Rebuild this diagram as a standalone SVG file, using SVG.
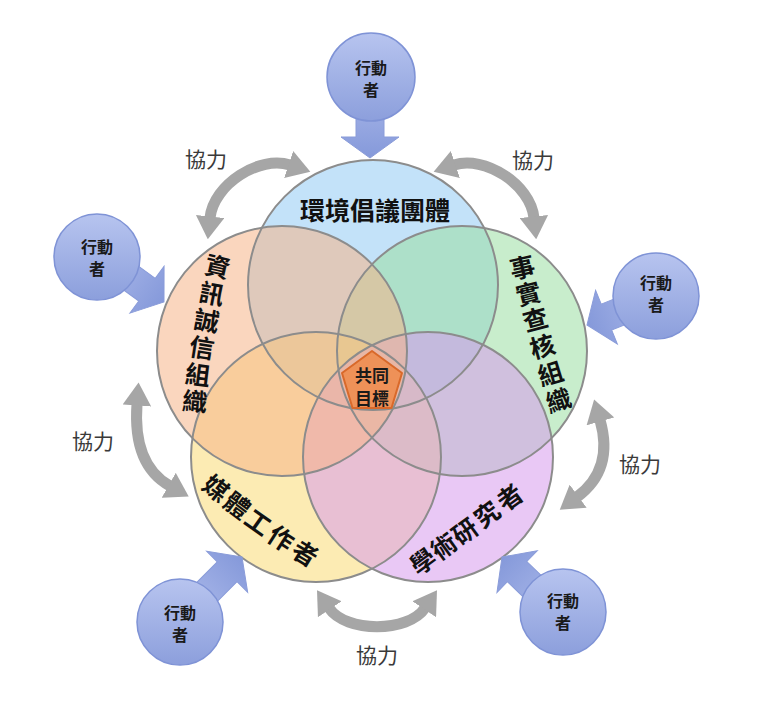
<svg xmlns="http://www.w3.org/2000/svg" width="774" height="728" viewBox="0 0 774 728">
  <defs>
    <style>
      .cjk { font-family: "Noto Sans CJK TC", "Noto Sans CJK SC", sans-serif; }
      .lbl { font-size: 25px; font-weight: 700; fill: #111; text-anchor: middle; dominant-baseline: central; }
      .coop { font-size: 21px; font-weight: 400; fill: #3a3a3a; text-anchor: middle; dominant-baseline: central; }
      .actor-t { font-size: 16px; font-weight: 700; fill: #1a1a1a; text-anchor: middle; dominant-baseline: central; }
      .goal-t { font-size: 17px; font-weight: 700; fill: #1a1a1a; text-anchor: middle; dominant-baseline: central; }
      .vfill { fill-opacity: 0.55; stroke: none; }
      .vline { fill: none; stroke: #8c8c8c; stroke-width: 2; }
      .garrow { fill: none; stroke: #a6a6a6; stroke-width: 11; marker-start: url(#ah); marker-end: url(#ah); }
      .actor-c { fill: url(#actorGrad); stroke: #7f93d6; stroke-width: 1.5; }
      .actor-a { fill: url(#arrowGrad); stroke: #8a9cd9; stroke-width: 1; }
    </style>
    <marker id="ah" viewBox="0 0 8 10" refX="0.5" refY="5" markerWidth="2.1" markerHeight="2.6" orient="auto-start-reverse" markerUnits="strokeWidth">
      <path d="M0,0 L8,5 L0,10 Z" fill="#a6a6a6"/>
    </marker>
    <linearGradient id="actorGrad" x1="0" y1="0" x2="0" y2="1">
      <stop offset="0" stop-color="#b7c4ef"/>
      <stop offset="1" stop-color="#8c9fdc"/>
    </linearGradient>
    <linearGradient id="arrowGrad" gradientUnits="userSpaceOnUse" x1="-85" y1="0" x2="0" y2="0">
      <stop offset="0" stop-color="#b0bdec"/>
      <stop offset="1" stop-color="#8599da"/>
    </linearGradient>
    <polygon id="blockArrow" points="0,0 -21,-29 -21,-14 -88,-14 -88,14 -21,14 -21,29"/>
  </defs>

  <rect width="774" height="728" fill="#ffffff"/>

  <!-- Venn circles (fills) -->
  <g id="node-env">
    <circle class="vfill" cx="373" cy="285" r="125" fill="#92caf4"/>
  </g>
  <g id="node-factcheck">
    <circle class="vfill" cx="462" cy="351" r="125" fill="#9bdea2"/>
  </g>
  <g id="node-media">
    <circle class="vfill" cx="316" cy="457" r="125" fill="#fadb75"/>
  </g>
  <g id="node-academic">
    <circle class="vfill" cx="428" cy="457" r="125" fill="#d79bed"/>
  </g>
  <g id="node-integrity">
    <circle class="vfill" cx="282" cy="351" r="125" fill="#f6b489"/>
  </g>

  <g id="venn-outlines">
    <circle class="vline" cx="373" cy="285" r="125"/>
    <circle class="vline" cx="462" cy="351" r="125"/>
    <circle class="vline" cx="428" cy="457" r="125"/>
    <circle class="vline" cx="316" cy="457" r="125"/>
    <circle class="vline" cx="282" cy="351" r="125"/>
  </g>

  <g id="labels" class="cjk">
    <text class="lbl" x="375" y="209">環境倡議團體</text>
    <g id="label-integrity">
      <text class="lbl" transform="translate(218,265) rotate(13)">資</text>
      <text class="lbl" transform="translate(212,292) rotate(11)">訊</text>
      <text class="lbl" transform="translate(207,319) rotate(10)">誠</text>
      <text class="lbl" transform="translate(202,346) rotate(9)">信</text>
      <text class="lbl" transform="translate(198,373) rotate(7)">組</text>
      <text class="lbl" transform="translate(195,400) rotate(5)">織</text>
    </g>
    <g id="label-factcheck">
      <text class="lbl" transform="translate(522,266) rotate(-13)">事</text>
      <text class="lbl" transform="translate(528,292) rotate(-14)">實</text>
      <text class="lbl" transform="translate(535,318) rotate(-15)">查</text>
      <text class="lbl" transform="translate(542,345) rotate(-16)">核</text>
      <text class="lbl" transform="translate(550,372) rotate(-17)">組</text>
      <text class="lbl" transform="translate(558,399) rotate(-18)">織</text>
    </g>
    <g id="label-media">
      <text class="lbl" transform="translate(217,487) rotate(38)">媒</text>
      <text class="lbl" transform="translate(238,504) rotate(37)">體</text>
      <text class="lbl" transform="translate(259,521) rotate(35)">工</text>
      <text class="lbl" transform="translate(282,537) rotate(33)">作</text>
      <text class="lbl" transform="translate(306,552) rotate(31)">者</text>
    </g>
    <g id="label-academic">
      <text class="lbl" transform="translate(422,560) rotate(-36)">學</text>
      <text class="lbl" transform="translate(443,545) rotate(-36)">術</text>
      <text class="lbl" transform="translate(464,530) rotate(-36)">研</text>
      <text class="lbl" transform="translate(486,513) rotate(-36)">究</text>
      <text class="lbl" transform="translate(509,496) rotate(-36)">者</text>
    </g>
  </g>

  <!-- Common goal -->
  <g id="node-goal">
    <polygon points="372,351 402,373 391.5,408 352.5,408 342,373" fill="#ee9158" stroke="#d9692a" stroke-width="2" stroke-linejoin="round"/>
    <text class="cjk goal-t" x="372" y="374">共同</text>
    <text class="cjk goal-t" x="372" y="397">目標</text>
  </g>

  <!-- Cooperation arrows and actor arrows -->
  <g id="connectors">
    <path class="garrow" d="M210,218 C213.5,184 260,155 290,165"/>
    <path class="garrow" d="M454,165 C484,155 530.5,184 534,218"/>
    <path class="garrow" d="M137,404 C134,445 145,472 170,486"/>
    <path class="garrow" d="M600,420 C610,455 600,480 577,497"/>
    <path class="garrow" d="M329,608 C345.8,632.9 408.2,632.9 425,608"/>
    <use href="#blockArrow" class="actor-a" transform="translate(370,158) rotate(90)"/>
    <use href="#blockArrow" class="actor-a" transform="translate(164,302) rotate(36)"/>
    <use href="#blockArrow" class="actor-a" transform="translate(587,325) rotate(158)"/>
    <use href="#blockArrow" class="actor-a" transform="translate(242,557) rotate(-45)"/>
    <use href="#blockArrow" class="actor-a" transform="translate(502,557) rotate(-136)"/>
  </g>

  <g id="coop-labels" class="cjk">
    <text class="coop" x="206" y="158">協力</text>
    <text class="coop" x="533" y="159">協力</text>
    <text class="coop" x="93" y="440">協力</text>
    <text class="coop" x="640" y="463">協力</text>
    <text class="coop" x="377" y="654">協力</text>
  </g>

  <!-- Actors -->
  <g id="actor-top" class="cjk">
    <circle class="actor-c" cx="371" cy="77" r="44"/>
    <text class="actor-t" x="371" y="67">行動</text>
    <text class="actor-t" x="371" y="89">者</text>
  </g>
  <g id="actor-left" class="cjk">
    <circle class="actor-c" cx="97" cy="257" r="43"/>
    <text class="actor-t" x="97" y="246">行動</text>
    <text class="actor-t" x="97" y="268">者</text>
  </g>
  <g id="actor-right" class="cjk">
    <circle class="actor-c" cx="656" cy="296" r="43"/>
    <text class="actor-t" x="656" y="282">行動</text>
    <text class="actor-t" x="656" y="304">者</text>
  </g>
  <g id="actor-bottom-left" class="cjk">
    <circle class="actor-c" cx="180" cy="622" r="43"/>
    <text class="actor-t" x="180" y="612">行動</text>
    <text class="actor-t" x="180" y="634">者</text>
  </g>
  <g id="actor-bottom-right" class="cjk">
    <circle class="actor-c" cx="563" cy="612" r="43"/>
    <text class="actor-t" x="563" y="600">行動</text>
    <text class="actor-t" x="563" y="622">者</text>
  </g>
</svg>
